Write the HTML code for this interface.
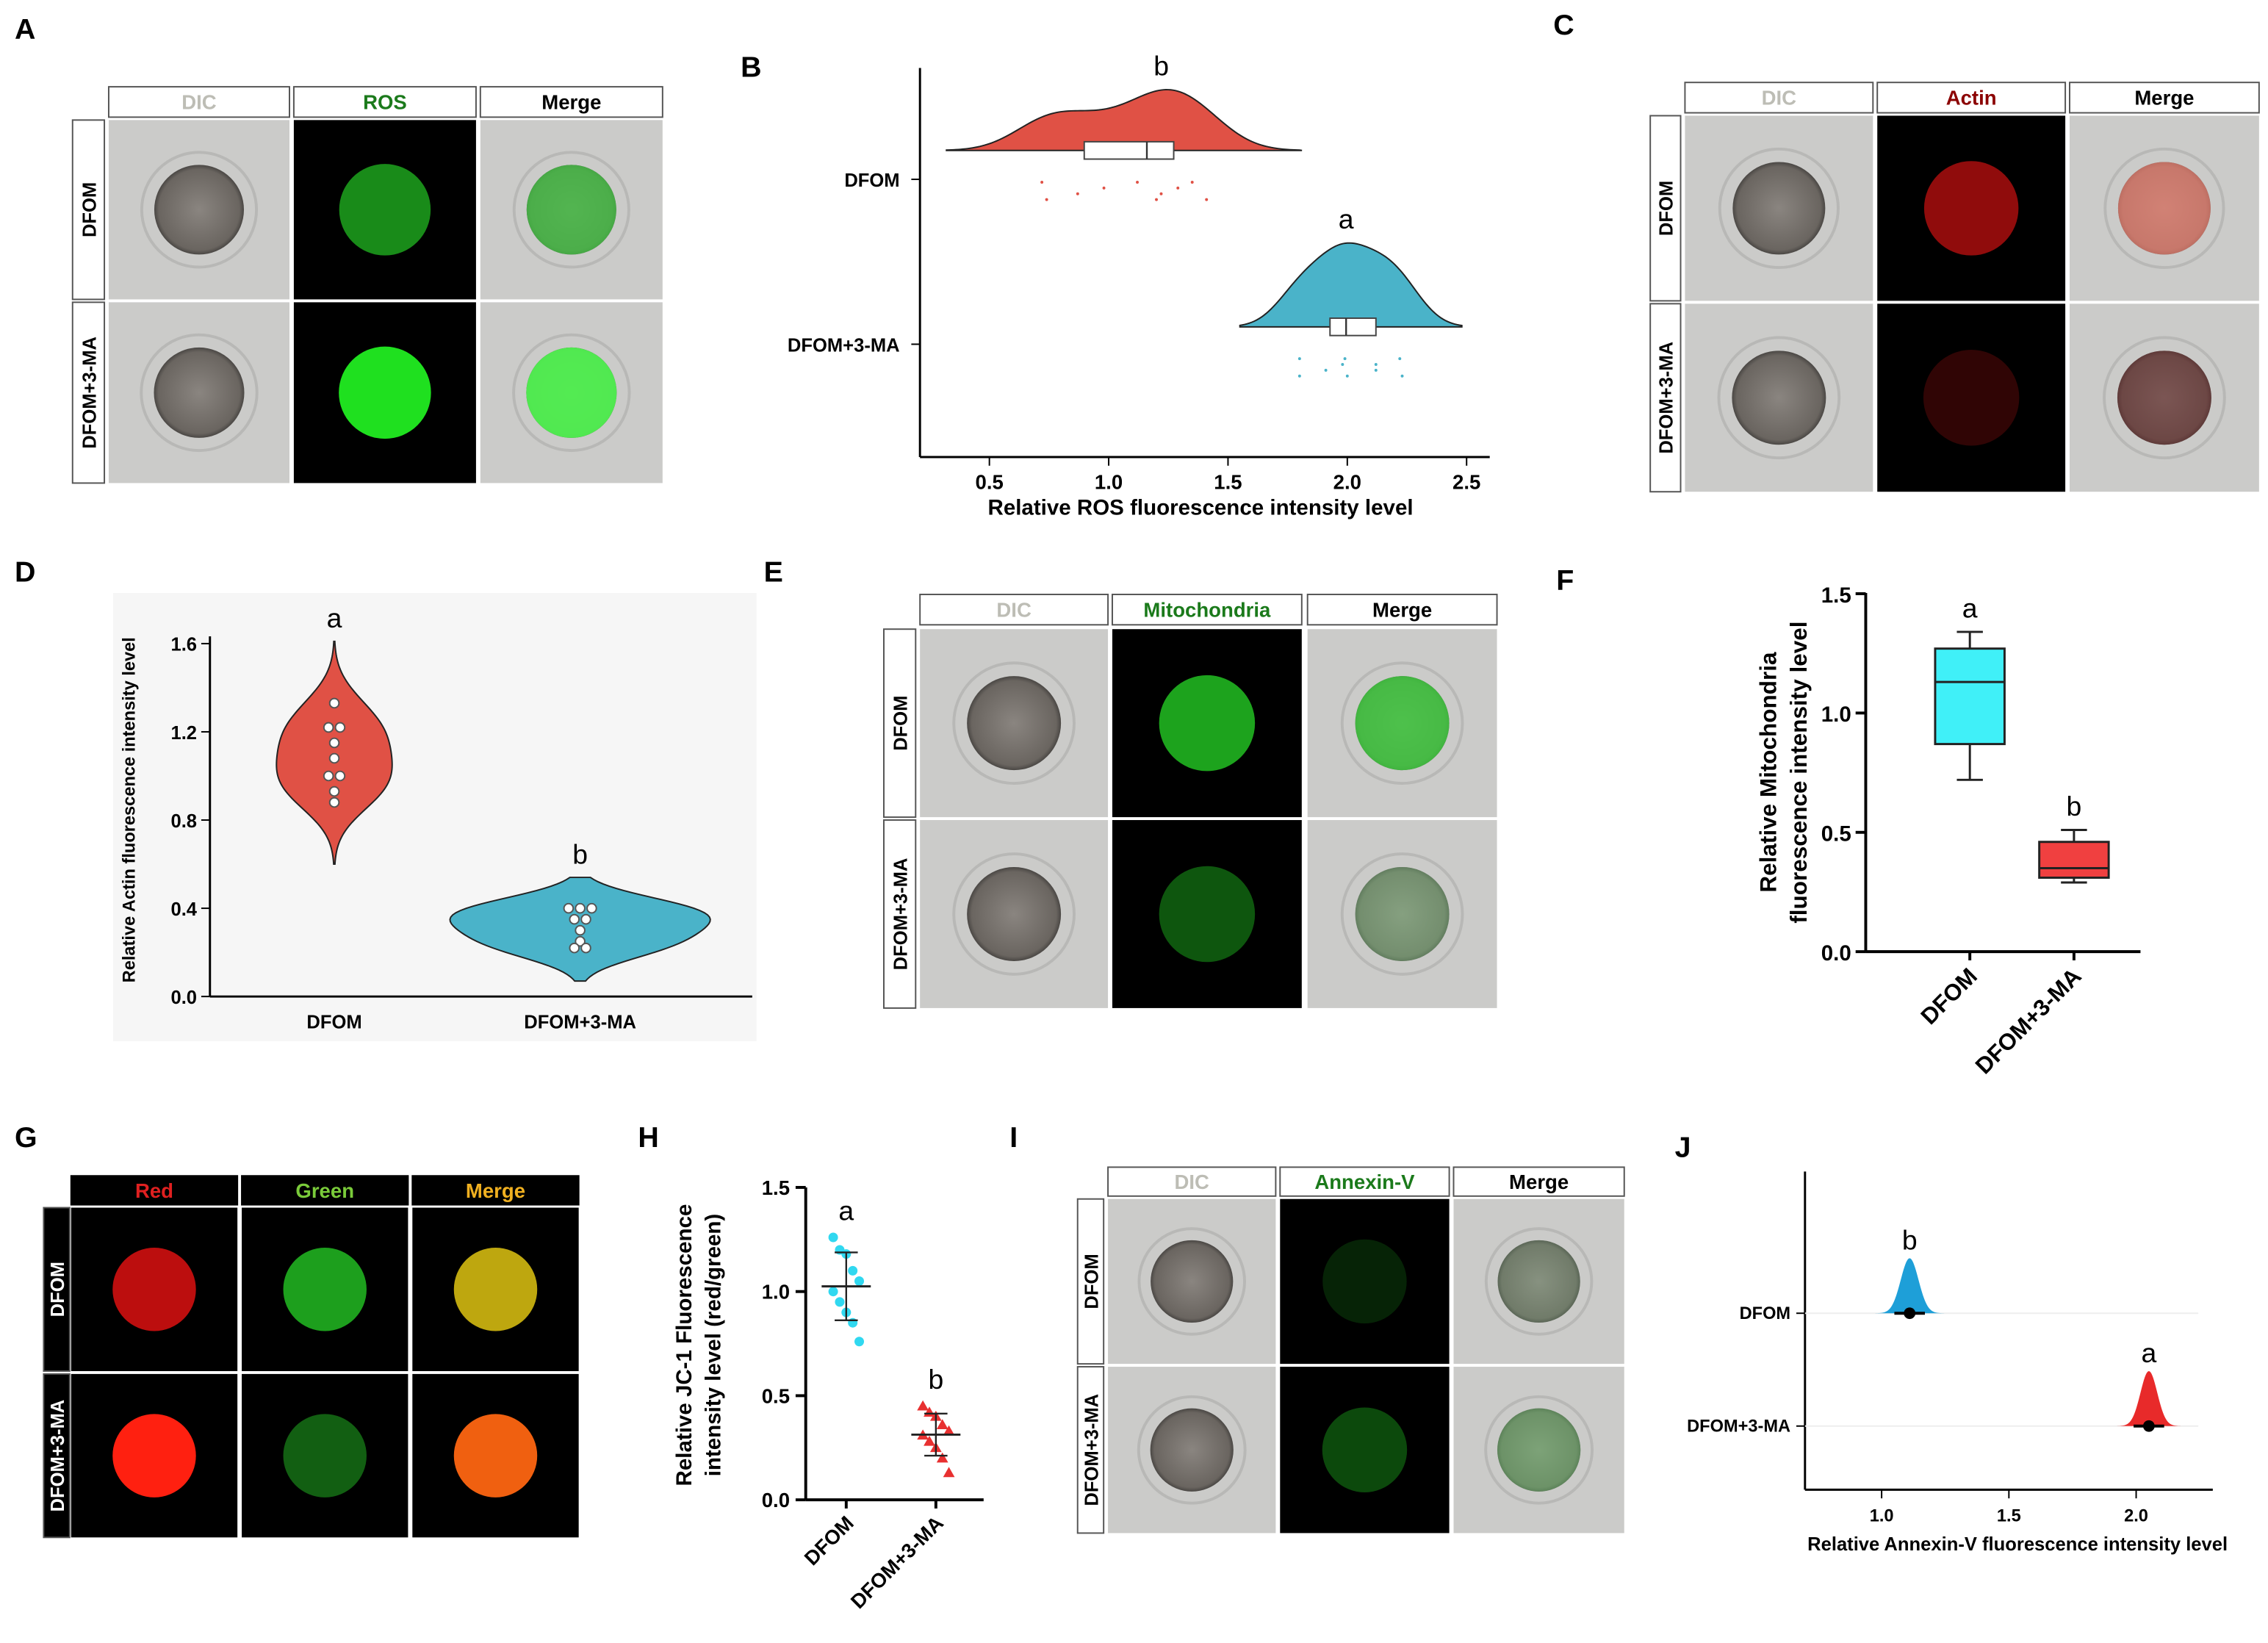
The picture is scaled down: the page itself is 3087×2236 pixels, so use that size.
<!DOCTYPE html>
<html><head><meta charset="utf-8"><style>
html,body{margin:0;padding:0;background:#fff;}
svg{display:block;font-family:"Liberation Sans",Arial,sans-serif;}
</style></head><body>
<svg id="fig" width="3087" height="2236" viewBox="0 0 1568 1136" xmlns="http://www.w3.org/2000/svg">
<defs>
<radialGradient id="gCell" cx="50%" cy="50%" r="50%"><stop offset="0" stop-color="#8a8580"/><stop offset="0.9" stop-color="#6a6560"/><stop offset="1" stop-color="#4a4744"/></radialGradient>
</defs>
<g id="panels"></g>
</svg>
<script>
const NS="http://www.w3.org/2000/svg";
const root=document.getElementById('panels');
function el(tag,attrs,parent,txt){const e=document.createElementNS(NS,tag);for(const k in attrs)e.setAttribute(k,attrs[k]);if(txt!==undefined)e.textContent=txt;(parent||root).appendChild(e);return e;}

// ---------------- DATA ----------------
const bCategories=["DFOM","DFOM+3-MA"];
const bDFOM=[0.72,0.74,0.87,0.98,1.12,1.20,1.22,1.29,1.35,1.41];
const bMA=[1.80,1.80,1.91,1.98,1.99,2.00,2.12,2.12,2.22,2.23];
const bTicks=[0.5,1.0,1.5,2.0,2.5];
const bLetters=["b","a"];
const dCategories=["DFOM","DFOM+3-MA"];
const dDFOM=[1.33,1.22,1.22,1.15,1.08,1.00,1.00,0.93,0.88];
const dMA=[0.40,0.40,0.40,0.35,0.35,0.30,0.25,0.22,0.22];
const dTicks=[0.0,0.4,0.8,1.2,1.6];
const fCategories=["DFOM","DFOM+3-MA"];
const fMin=[0.72,0.29];
const fQ1=[0.87,0.31];
const fMed=[1.13,0.35];
const fQ3=[1.27,0.46];
const fMax=[1.34,0.51];
const fTicks=[0.0,0.5,1.0,1.5];
const hCategories=["DFOM","DFOM+3-MA"];
const hDFOM=[1.26,1.20,1.18,1.10,1.05,1.00,0.95,0.90,0.85,0.76];
const hMA=[0.45,0.42,0.40,0.36,0.33,0.31,0.28,0.25,0.20,0.13];
const hTicks=[0.0,0.5,1.0,1.5];
const jCategories=["DFOM","DFOM+3-MA"];
const jMean=[1.11,2.05];
const jSD=[0.035,0.033];
const jTicks=[1.0,1.5,2.0];

// ---------------- helpers ----------------
function label(x,y,t){el('text',{x:x,y:y,'font-size':20,'font-weight':'bold',},root,t);}
function kde(data,bw,x){let s=0;for(const d of data){const u=(x-d)/bw;s+=Math.exp(-0.5*u*u);}return s/data.length;}
function quant(a,q){const s=[...a].sort((p,r)=>p-r);const i=(s.length-1)*q,lo=Math.floor(i),hi=Math.ceil(i);return s[lo]+(s[hi]-s[lo])*(i-lo);}

function tile(x,y,w,h,kind,intensity,name){
  const g=el('g',{});
  const cx=x+w/2,cy=y+h/2,r=Math.min(w,h)*0.25;
  if(kind==='dic'){el('rect',{x,y,width:w,height:h,fill:'#cbcbc9'},g);el('circle',{cx,cy,r:r*1.28,fill:'none',stroke:'#b8b8b6','stroke-width':2},g);el('circle',{cx,cy,r:r,fill:'url(#gCell)'},g);}
  else if(kind==='black'){el('rect',{x,y,width:w,height:h,fill:'#000'},g);el('circle',{cx,cy,r:r*1.02,fill:intensity.c,opacity:intensity.o},g);}
  else if(kind==='merge'){el('rect',{x,y,width:w,height:h,fill:'#cbcbc9'},g);el('circle',{cx,cy,r:r*1.28,fill:'none',stroke:'#b8b8b6','stroke-width':2},g);el('circle',{cx,cy,r:r,fill:'url(#gCell)'},g);el('circle',{cx,cy,r:r,fill:intensity.c,opacity:intensity.o},g);}
}
function header(x,y,w,h,t,color,dark){el('rect',{x,y,width:w,height:h,fill:dark?'#000':'#fff',stroke:dark?'#000':'#555','stroke-width':1,});el('text',{x:x+w/2,y:y+h/2+5,'text-anchor':'middle','font-size':14,'font-weight':'bold',fill:color},root,t);}
function rowLabel(x,y,w,h,t,dark){el('rect',{x,y,width:w,height:h,fill:dark?'#000':'#fff',stroke:'#555','stroke-width':1,});el('text',{x:0,y:0,'text-anchor':'middle','font-size':13,'font-weight':'bold',fill:dark?'#fff':'#000',transform:`translate(${x+w/2+5},${y+h/2}) rotate(-90)`},root,t);}

function imgPanel(cols,heads,colors,rows,rowNames,rowX,rowW,fills,dark){
  heads.forEach((h,i)=>header(cols[i][0],rows.hy,cols[i][1]-cols[i][0],rows.hh,h,colors[i],dark));
  rows.r.forEach((r,ri)=>{rowLabel(rowX,r[0],rowW,r[1]-r[0],rowNames[ri],dark);
    cols.forEach((c,ci)=>{const f=fills[ri][ci];tile(c[0],r[0],c[1]-c[0],r[1]-r[0],f.k,f,'image-'+heads[ci].toLowerCase()+'-row'+(ri+1));});});
}

label(10,27,'A');
imgPanel([[75,200],[203,329],[332,458]],['DIC','ROS','Merge'],['#bdbdb5','#1b7a1b','#000'],{hy:60,hh:21,r:[[83,207],[209,334]]},['DFOM','DFOM+3-MA'],50,22,
 [[{k:'dic'},{k:'black',c:'#1c9a1c',o:0.9},{k:'merge',c:'#45c045',o:0.8}],[{k:'dic'},{k:'black',c:'#1fe01f',o:1},{k:'merge',c:'#50f050',o:0.95}]]);

label(1074,24,'C');
imgPanel([[1165,1295],[1298,1428],[1431,1562]],['DIC','Actin','Merge'],['#bdbdb5','#8b0000','#000'],{hy:57,hh:21,r:[[80,208],[210,340]]},['DFOM','DFOM+3-MA'],1141,21,
 [[{k:'dic'},{k:'black',c:'#c01010',o:0.75},{k:'merge',c:'#f08070',o:0.7}],[{k:'dic'},{k:'black',c:'#6a0a0a',o:0.45},{k:'merge',c:'#703030',o:0.55}]]);

label(528,402,'E');
imgPanel([[636,766],[769,900],[904,1035]],['DIC','Mitochondria','Merge'],['#bdbdb5','#1b7a1b','#000'],{hy:411,hh:21,r:[[435,565],[567,697]]},['DFOM','DFOM+3-MA'],611,22,
 [[{k:'dic'},{k:'black',c:'#22c022',o:0.85},{k:'merge',c:'#3fd03f',o:0.8}],[{k:'dic'},{k:'black',c:'#147a14',o:0.7},{k:'merge',c:'#80c080',o:0.45}]]);

label(10,793,'G');
imgPanel([[49,164],[167,282],[285,400]],['Red','Green','Merge'],['#e02020','#7acb3a','#f0b020'],{hy:813,hh:20,r:[[835,948],[950,1063]]},['DFOM','DFOM+3-MA'],30,18,
 [[{k:'black',c:'#d01010',o:0.9},{k:'black',c:'#20b020',o:0.9},{k:'black',c:'#c8b010',o:0.95}],[{k:'black',c:'#ff2010',o:1},{k:'black',c:'#157015',o:0.85},{k:'black',c:'#f06010',o:1}]],true);

label(698,793,'I');
imgPanel([[766,882],[885,1002],[1005,1123]],['DIC','Annexin-V','Merge'],['#bdbdb5','#1b7a1b','#000'],{hy:807,hh:20,r:[[829,943],[945,1060]]},['DFOM','DFOM+3-MA'],745,18,
 [[{k:'dic'},{k:'black',c:'#0a3a0a',o:0.6},{k:'merge',c:'#80b080',o:0.3}],[{k:'dic'},{k:'black',c:'#147a14',o:0.6},{k:'merge',c:'#70c070',o:0.5}]]);

// ---------------- Panel B ----------------
label(512,53,'B');
(function(){
 const xB=v=>684+(v-0.5)*165; const cy=[104,226]; const catY=[124,238];
 const g=el('g',{});
 el('line',{x1:636,y1:47,x2:636,y2:316,stroke:'#000','stroke-width':1.5,},g);
 el('line',{x1:636,y1:316,x2:1030,y2:316,stroke:'#000','stroke-width':1.5,},g);
 bTicks.forEach(t=>{el('line',{x1:xB(t),y1:316,x2:xB(t),y2:322,stroke:'#000'},g);el('text',{x:xB(t),y:338,'text-anchor':'middle','font-size':14,'font-weight':'bold'},g,t.toFixed(1));});
 el('text',{x:830,y:356,'text-anchor':'middle','font-size':15,'font-weight':'bold',},g,'Relative ROS fluorescence intensity level');
 const sets=[bDFOM,bMA],cols=['#e05145','#4ab3c9'],hts=[42,58],bws=[0.14,0.1],pads=[0.4,0.25];
 sets.forEach((d,i)=>{
  el('line',{x1:630,y1:catY[i],x2:636,y2:catY[i],stroke:'#000'},g);
  el('text',{x:622,y:catY[i]+5,'text-anchor':'end','font-size':13,'font-weight':'bold'},g,bCategories[i]);
  const lo=Math.min(...d)-pads[i],hi=Math.max(...d)+pads[i];let mx=0;const pts=[];
  for(let v=lo;v<=hi;v+=0.01){const k=kde(d,bws[i],v);pts.push([v,k]);mx=Math.max(mx,k);}
  let p=`M${xB(lo)},${cy[i]}`;pts.forEach(q=>p+=` L${xB(q[0])},${cy[i]-q[1]/mx*hts[i]}`);p+=` L${xB(hi)},${cy[i]} Z`;
  const v=el('path',{d:p,fill:cols[i],stroke:'#222','stroke-width':1},g);
  
  
  const q1=quant(d,0.25),q2=quant(d,0.5),q3=quant(d,0.75);
  el('rect',{x:xB(q1),y:cy[i]-6,width:xB(q3)-xB(q1),height:12,fill:'#fff',stroke:'#444'},g);
  el('line',{x1:xB(q2),y1:cy[i]-6,x2:xB(q2),y2:cy[i]+6,stroke:'#333','stroke-width':1.2},g);
  d.forEach((val,j)=>{const c=el('circle',{cx:xB(val),cy:cy[i]+22+((j*7)%4)*4,r:1,fill:cols[i]},g);});
  el('text',{x:xB(quant(d,0.5))+(i?0:10),y:cy[i]-hts[i]-10,'text-anchor':'middle','font-size':19},g,bLetters[i]);
 });
})();

// ---------------- Panel D ----------------
label(10,402,'D');
(function(){
 const yD=v=>689-v*152.5; const xc=[231,401];
 const g=el('g',{});
 el('rect',{x:78,y:410,width:445,height:310,fill:'#f6f6f6'},g);
 el('line',{x1:145,y1:440,x2:145,y2:689,stroke:'#000','stroke-width':1.5,},g);
 el('line',{x1:145,y1:689,x2:520,y2:689,stroke:'#000','stroke-width':1.5,},g);
 dTicks.forEach(t=>{el('line',{x1:139,y1:yD(t),x2:145,y2:yD(t),stroke:'#000'},g);el('text',{x:136,y:yD(t)+5,'text-anchor':'end','font-size':13,'font-weight':'bold'},g,t.toFixed(1));});
 el('text',{x:0,y:0,'text-anchor':'middle','font-size':12,'font-weight':'bold',transform:'translate(93,560) rotate(-90)',},g,'Relative Actin fluorescence intensity level');
 const sets=[dDFOM,dMA],cols=['#e05145','#4ab3c9'],wid=[40,90],bw=[0.11,0.07],padLo=[0.28,0.15],padHi=[0.29,0.15],letters=['a','b'];
 sets.forEach((d,i)=>{
  el('text',{x:xc[i],y:711,'text-anchor':'middle','font-size':13,'font-weight':'bold'},g,dCategories[i]);
  const lo=Math.min(...d)-padLo[i],hi=Math.max(...d)+padHi[i];let mx=0;const pts=[];
  for(let v=lo;v<=hi;v+=0.01){const k=kde(d,bw[i],v);pts.push([v,k]);mx=Math.max(mx,k);}
  let p='';pts.forEach((q,j)=>p+=(j?' L':'M')+`${xc[i]+q[1]/mx*wid[i]},${yD(q[0])}`);
  [...pts].reverse().forEach(q=>p+=` L${xc[i]-q[1]/mx*wid[i]},${yD(q[0])}`);p+=' Z';
  const v=el('path',{d:p,fill:cols[i],stroke:'#222','stroke-width':1},g);
  
  
  const cnt={};d.forEach(val=>{const k=val.toFixed(2);cnt[k]=(cnt[k]||0);const n=d.filter(z=>z.toFixed(2)===k).length;const off=(cnt[k]-(n-1)/2)*8;cnt[k]++;
   const c=el('circle',{cx:xc[i]+off,cy:yD(val),r:3.2,fill:'#fff',stroke:'#555'},g);});
  el('text',{x:xc[i],y:yD(hi)-8,'text-anchor':'middle','font-size':19},g,letters[i]);
 });
})();

// ---------------- Panel F ----------------
label(1076,408,'F');
(function(){
 const yF=v=>658-v*165; const xc=[1362,1434]; const bw=48;
 const g=el('g',{});
 el('line',{x1:1290,y1:410,x2:1290,y2:658,stroke:'#000','stroke-width':2,},g);
 el('line',{x1:1290,y1:658,x2:1480,y2:658,stroke:'#000','stroke-width':2,},g);
 fTicks.forEach(t=>{el('line',{x1:1283,y1:yF(t),x2:1290,y2:yF(t),stroke:'#000','stroke-width':2},g);el('text',{x:1280,y:yF(t)+6,'text-anchor':'end','font-size':15,'font-weight':'bold'},g,t.toFixed(1));});
 el('text',{x:0,y:0,'text-anchor':'middle','font-size':16,'font-weight':'bold',transform:'translate(1228,534) rotate(-90)'},g,'Relative Mitochondria');
 el('text',{x:0,y:0,'text-anchor':'middle','font-size':16,'font-weight':'bold',transform:'translate(1249,534) rotate(-90)'},g,'fluorescence intensity level');
 const cols=['#40f0f8','#f04040'],letters=['a','b'];
 fCategories.forEach((c,i)=>{
  el('line',{x1:xc[i],y1:658,x2:xc[i],y2:664,stroke:'#000','stroke-width':2},g);
  el('text',{x:0,y:0,'text-anchor':'end','font-size':16,'font-weight':'bold',transform:`translate(${xc[i]+6},${676}) rotate(-45)`},g,c);
  el('line',{x1:xc[i],y1:yF(fMax[i]),x2:xc[i],y2:yF(fMin[i]),stroke:'#222','stroke-width':1.5},g);
  el('line',{x1:xc[i]-9,y1:yF(fMax[i]),x2:xc[i]+9,y2:yF(fMax[i]),stroke:'#222','stroke-width':1.5},g);
  el('line',{x1:xc[i]-9,y1:yF(fMin[i]),x2:xc[i]+9,y2:yF(fMin[i]),stroke:'#222','stroke-width':1.5},g);
  const r=el('rect',{x:xc[i]-bw/2,y:yF(fQ3[i]),width:bw,height:yF(fQ1[i])-yF(fQ3[i]),fill:cols[i],stroke:'#222','stroke-width':1.5},g);
  
  
  el('line',{x1:xc[i]-bw/2,y1:yF(fMed[i]),x2:xc[i]+bw/2,y2:yF(fMed[i]),stroke:'#222','stroke-width':1.5},g);
  el('text',{x:xc[i],y:yF(fMax[i])-10,'text-anchor':'middle','font-size':19},g,letters[i]);
 });
})();

// ---------------- Panel H ----------------
label(441,793,'H');
(function(){
 const yH=v=>1037-v*144; const xc=[585,647];
 const g=el('g',{});
 el('line',{x1:557,y1:821,x2:557,y2:1037,stroke:'#000','stroke-width':2,},g);
 el('line',{x1:557,y1:1037,x2:680,y2:1037,stroke:'#000','stroke-width':2,},g);
 hTicks.forEach(t=>{el('line',{x1:550,y1:yH(t),x2:557,y2:yH(t),stroke:'#000','stroke-width':2},g);el('text',{x:546,y:yH(t)+5,'text-anchor':'end','font-size':14,'font-weight':'bold'},g,t.toFixed(1));});
 el('text',{x:0,y:0,'text-anchor':'middle','font-size':15,'font-weight':'bold',transform:'translate(478,930) rotate(-90)'},g,'Relative JC-1 Fluorescence');
 el('text',{x:0,y:0,'text-anchor':'middle','font-size':15,'font-weight':'bold',transform:'translate(498,930) rotate(-90)'},g,'intensity level  (red/green)');
 const sets=[hDFOM,hMA],cols=['#30d8f0','#e83030'],letters=['a','b'];
 sets.forEach((d,i)=>{
  el('line',{x1:xc[i],y1:1037,x2:xc[i],y2:1043,stroke:'#000','stroke-width':2},g);
  el('text',{x:0,y:0,'text-anchor':'end','font-size':14,'font-weight':'bold',transform:`translate(${xc[i]+6},${1054}) rotate(-45)`},g,hCategories[i]);
  const m=d.reduce((a,b)=>a+b,0)/d.length;const sd=Math.sqrt(d.reduce((a,b)=>a+(b-m)*(b-m),0)/(d.length-1));
  d.forEach((v,j)=>{const off=((j%5)-2)*4.5;let mk;
   if(i===0)mk=el('circle',{cx:xc[i]+off,cy:yH(v),r:3.3,fill:cols[i]},g);
   else mk=el('path',{d:`M${xc[i]+off},${yH(v)-4} l4,7 l-8,0 Z`,fill:cols[i]},g);
   });
  el('line',{x1:xc[i]-17,y1:yH(m),x2:xc[i]+17,y2:yH(m),stroke:'#222','stroke-width':1.5},g);
  el('line',{x1:xc[i],y1:yH(m+sd),x2:xc[i],y2:yH(m-sd),stroke:'#222','stroke-width':1.2},g);
  el('line',{x1:xc[i]-8,y1:yH(m+sd),x2:xc[i]+8,y2:yH(m+sd),stroke:'#222','stroke-width':1.2},g);
  el('line',{x1:xc[i]-8,y1:yH(m-sd),x2:xc[i]+8,y2:yH(m-sd),stroke:'#222','stroke-width':1.2},g);
  el('text',{x:xc[i],y:yH(Math.max(...d))-12,'text-anchor':'middle','font-size':19},g,letters[i]);
 });
})();

// ---------------- Panel J ----------------
label(1158,800,'J');
(function(){
 const xJ=v=>1301+(v-1)*176; const cy=[908,986];
 const g=el('g',{});
 el('line',{x1:1248,y1:810,x2:1248,y2:1030,stroke:'#000','stroke-width':1.5,},g);
 el('line',{x1:1248,y1:1030,x2:1530,y2:1030,stroke:'#000','stroke-width':1.5,},g);
 jTicks.forEach(t=>{el('line',{x1:xJ(t),y1:1030,x2:xJ(t),y2:1036,stroke:'#000'},g);el('text',{x:xJ(t),y:1052,'text-anchor':'middle','font-size':12,'font-weight':'bold'},g,t.toFixed(1));});
 el('text',{x:1395,y:1072,'text-anchor':'middle','font-size':13,'font-weight':'bold',},g,'Relative Annexin-V fluorescence intensity level');
 const cols=['#1e9fd8','#e82a2a'],letters=['b','a'];
 jCategories.forEach((c,i)=>{
  el('line',{x1:1248,y1:cy[i],x2:1520,y2:cy[i],stroke:'#eee'},g);
  el('line',{x1:1242,y1:cy[i],x2:1248,y2:cy[i],stroke:'#000'},g);
  el('text',{x:1238,y:cy[i]+4,'text-anchor':'end','font-size':12,'font-weight':'bold'},g,c);
  let p=`M${xJ(jMean[i]-5*jSD[i])},${cy[i]}`;
  for(let v=jMean[i]-5*jSD[i];v<=jMean[i]+5*jSD[i];v+=jSD[i]/10){const u=(v-jMean[i])/jSD[i];p+=` L${xJ(v)},${cy[i]-38*Math.exp(-0.5*u*u)}`;}
  p+=` L${xJ(jMean[i]+5*jSD[i])},${cy[i]} Z`;
  const r=el('path',{d:p,fill:cols[i]},g);
  
  
  el('line',{x1:xJ(jMean[i]-0.06),y1:cy[i],x2:xJ(jMean[i]+0.06),y2:cy[i],stroke:'#000','stroke-width':2},g);
  el('circle',{cx:xJ(jMean[i]),cy:cy[i],r:4,fill:'#000'},g);
  el('text',{x:xJ(jMean[i]),y:cy[i]-44,'text-anchor':'middle','font-size':19},g,letters[i]);
 });
})();
</script>
</body></html>
